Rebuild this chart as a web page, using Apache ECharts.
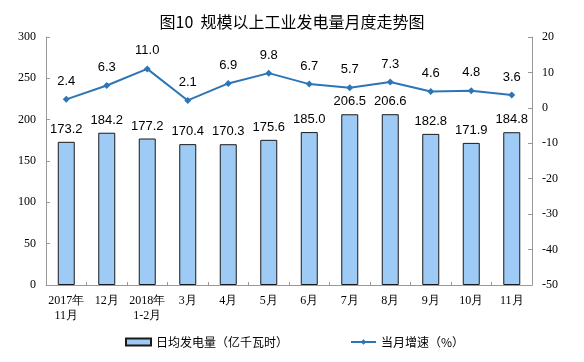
<!DOCTYPE html>
<html><head><meta charset="utf-8">
<script src="https://cdn.jsdelivr.net/npm/echarts@6/dist/echarts.min.js"></script>
<style>html,body{margin:0;padding:0;background:#fff}#c{width:584px;height:362px}</style>
</head><body><div id="c"></div>
<script>
const categories = ['2017年\n11月','12月','2018年\n1-2月','3月','4月','5月','6月','7月','8月','9月','10月','11月'];
const dailyOutput = [173.2,184.2,177.2,170.4,170.3,175.6,185.0,206.5,206.6,182.8,171.9,184.8];
const growth = [2.4,6.3,11.0,2.1,6.9,9.8,6.7,5.7,7.3,4.6,4.8,3.6];
const seriesNames = ['日均发电量（亿千瓦时）','当月增速（%）'];
const chart = echarts.init(document.getElementById('c'));
const axisFont = {fontFamily:'Liberation Serif', fontSize:12, color:'#000'};
chart.setOption({
  animation:false,
  title:{text:'图10  规模以上工业发电量月度走势图', left:'center', top:9,
    textStyle:{fontFamily:'Noto Sans CJK SC', fontSize:16, fontWeight:'normal', color:'#000'}},
  grid:{left:46, right:52, top:37, bottom:77},
  legend:{bottom:9, left:120, itemGap:62, itemWidth:25, itemHeight:7,
    textStyle:{fontFamily:'Noto Sans CJK SC', fontSize:12, color:'#000'},
    data:[{name:seriesNames[0], icon:'rect'},{name:seriesNames[1]}]},
  xAxis:{type:'category', data:categories,
    axisLine:{lineStyle:{color:'#999'}}, axisTick:{show:true, inside:true, length:3, lineStyle:{color:'#999'}},
    axisLabel:Object.assign({interval:0, lineHeight:15, margin:8}, axisFont)},
  yAxis:[
    {type:'value', min:0, max:300, interval:50, splitLine:{show:false},
     axisLine:{show:true, lineStyle:{color:'#999'}}, axisTick:{show:true, inside:true, length:4, lineStyle:{color:'#999'}},
     axisLabel:Object.assign({margin:10}, axisFont)},
    {type:'value', min:-50, max:20, interval:10, splitLine:{show:false},
     axisLine:{show:true, lineStyle:{color:'#999'}}, axisTick:{show:true, inside:true, length:4, lineStyle:{color:'#999'}},
     axisLabel:Object.assign({margin:10}, axisFont)}
  ],
  series:[
    {name:seriesNames[0], type:'bar', data:dailyOutput, barWidth:17, yAxisIndex:0,
     itemStyle:{color:'#9ECBF6', borderColor:'#1a1a1a', borderWidth:1},
     label:{show:true, position:'top', distance:6, fontFamily:'Liberation Sans', fontSize:13, color:'#000',
       formatter:p=>p.value.toFixed(1)}},
    {name:seriesNames[1], type:'line', data:growth, yAxisIndex:1,
     symbol:'diamond', symbolSize:7,
     lineStyle:{color:'#2E75B6', width:2}, itemStyle:{color:'#2E75B6'},
     label:{show:true, position:'top', distance:8, fontFamily:'Liberation Sans', fontSize:13, color:'#000',
       formatter:p=>p.value.toFixed(1)}}
  ]
});
</script></body></html>
